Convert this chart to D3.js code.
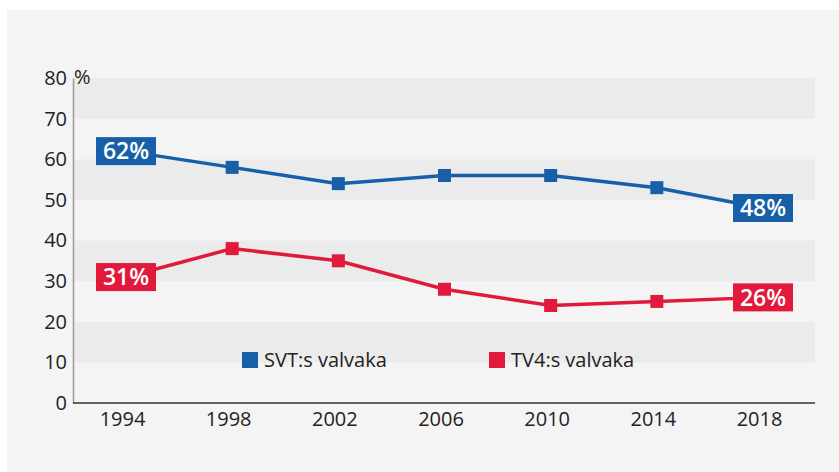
<!DOCTYPE html>
<html>
<head>
<meta charset="utf-8">
<script src="https://cdn.jsdelivr.net/npm/d3@7"></script>
<style>
  html, body { margin: 0; padding: 0; background: #fff; }
  svg { display: block; font-family: "Open Sans", sans-serif; }
</style>
</head>
<body>
<svg id="chart" width="839" height="472"></svg>
<script>
// Data
const years = [1994, 1998, 2002, 2006, 2010, 2014, 2018];
const svtValues = [62, 58, 54, 56, 56, 53, 48];
const tv4Values = [31, 38, 35, 28, 24, 25, 26];
const yTicks = [0, 10, 20, 30, 40, 50, 60, 70, 80];
const bands = [[10, 20], [30, 40], [50, 60], [70, 80]];
const seriesNames = ['SVT:s valvaka', 'TV4:s valvaka'];

const colors = { svt: '#1760a9', tv4: '#e11a3c' };
const font = '"Open Sans", sans-serif';

// Layout
const layout = { left: 73, right: 815, top: 78, bottom: 403 };

const svg = d3.select('#chart');

// Panel background
svg.append('rect')
  .attr('x', 7).attr('y', 10)
  .attr('width', 839 - 7).attr('height', 472 - 10)
  .attr('fill', '#f4f4f4');

// Scales
const x = d3.scaleLinear()
  .domain([1994, 2018])
  .range([126, 763]);

const y = d3.scaleLinear()
  .domain([0, 80])
  .range([layout.bottom, layout.top]);

// Bands
svg.append('g').selectAll('rect')
  .data(bands)
  .join('rect')
  .attr('x', layout.left)
  .attr('width', layout.right - layout.left)
  .attr('y', d => y(d[1]))
  .attr('height', d => y(d[0]) - y(d[1]))
  .attr('fill', '#ebebeb');

// Y axis
const yAxis = svg.append('g')
  .attr('transform', `translate(${layout.left},0)`)
  .call(d3.axisLeft(y).tickValues(yTicks).tickSize(0).tickPadding(6));
yAxis.select('.domain').attr('stroke', '#9a9a9a').attr('stroke-width', 1.5);
yAxis.selectAll('text')
  .attr('font-size', 20)
  .attr('fill', '#222')
  .attr('font-family', font);

// Percent sign
svg.append('text')
  .attr('x', layout.left + 1)
  .attr('y', y(80))
  .attr('dy', '0.32em')
  .attr('font-size', 20)
  .attr('fill', '#222')
  .text('%');

// X axis
const xAxis = svg.append('g')
  .attr('transform', `translate(0,${layout.bottom})`)
  .call(d3.axisBottom(x).tickValues(years).tickFormat(d3.format('d')).tickSize(0).tickPadding(9));
xAxis.select('.domain')
  .attr('d', `M${layout.left},0H${layout.right}`)
  .attr('stroke', '#333').attr('stroke-width', 1.5);
xAxis.selectAll('text')
  .attr('font-size', 20)
  .attr('fill', '#222')
  .attr('dx', -4)
  .attr('font-family', font);

// Series
const series = [
  { id: 'svt', values: svtValues },
  { id: 'tv4', values: tv4Values },
];

const line = d3.line()
  .x((d, i) => x(years[i]))
  .y(d => y(d));

series.forEach(s => {
  svg.append('path')
    .datum(s.values)
    .attr('d', line)
    .attr('fill', 'none')
    .attr('stroke', colors[s.id])
    .attr('stroke-width', 3.5);

  // Markers (skip first and last, covered by labels)
  svg.append('g').selectAll('rect')
    .data(s.values.slice(1, -1))
    .join('rect')
    .attr('x', (d, i) => x(years[i + 1]) - 6.5)
    .attr('y', d => y(d) - 6.5)
    .attr('width', 13)
    .attr('height', 13)
    .attr('fill', colors[s.id]);

  // End labels
  const ends = [0, s.values.length - 1];
  const lab = svg.append('g').selectAll('g')
    .data(ends)
    .join('g')
    .attr('transform', i => `translate(${x(years[i])},${y(s.values[i])})`);
  lab.append('rect')
    .attr('x', -30).attr('y', -14)
    .attr('width', 60).attr('height', 28)
    .attr('fill', colors[s.id]);
  lab.append('text')
    .attr('text-anchor', 'middle')
    .attr('dy', '0.36em')
    .attr('font-size', 23)
    .attr('font-weight', 600)
    .attr('fill', '#fff')
    .text(i => s.values[i] + '%');
});

// Legend
const legendX = [242, 489];
const legend = svg.append('g').selectAll('g')
  .data(series)
  .join('g')
  .attr('transform', (d, i) => `translate(${legendX[i]},352)`);
legend.append('rect')
  .attr('width', 16).attr('height', 16)
  .attr('fill', d => colors[d.id]);
legend.append('text')
  .attr('x', 22)
  .attr('y', 8)
  .attr('dy', '0.35em')
  .attr('font-size', 20)
  .attr('fill', '#222')
  .text((d, i) => seriesNames[i]);
</script>
</body>
</html>
